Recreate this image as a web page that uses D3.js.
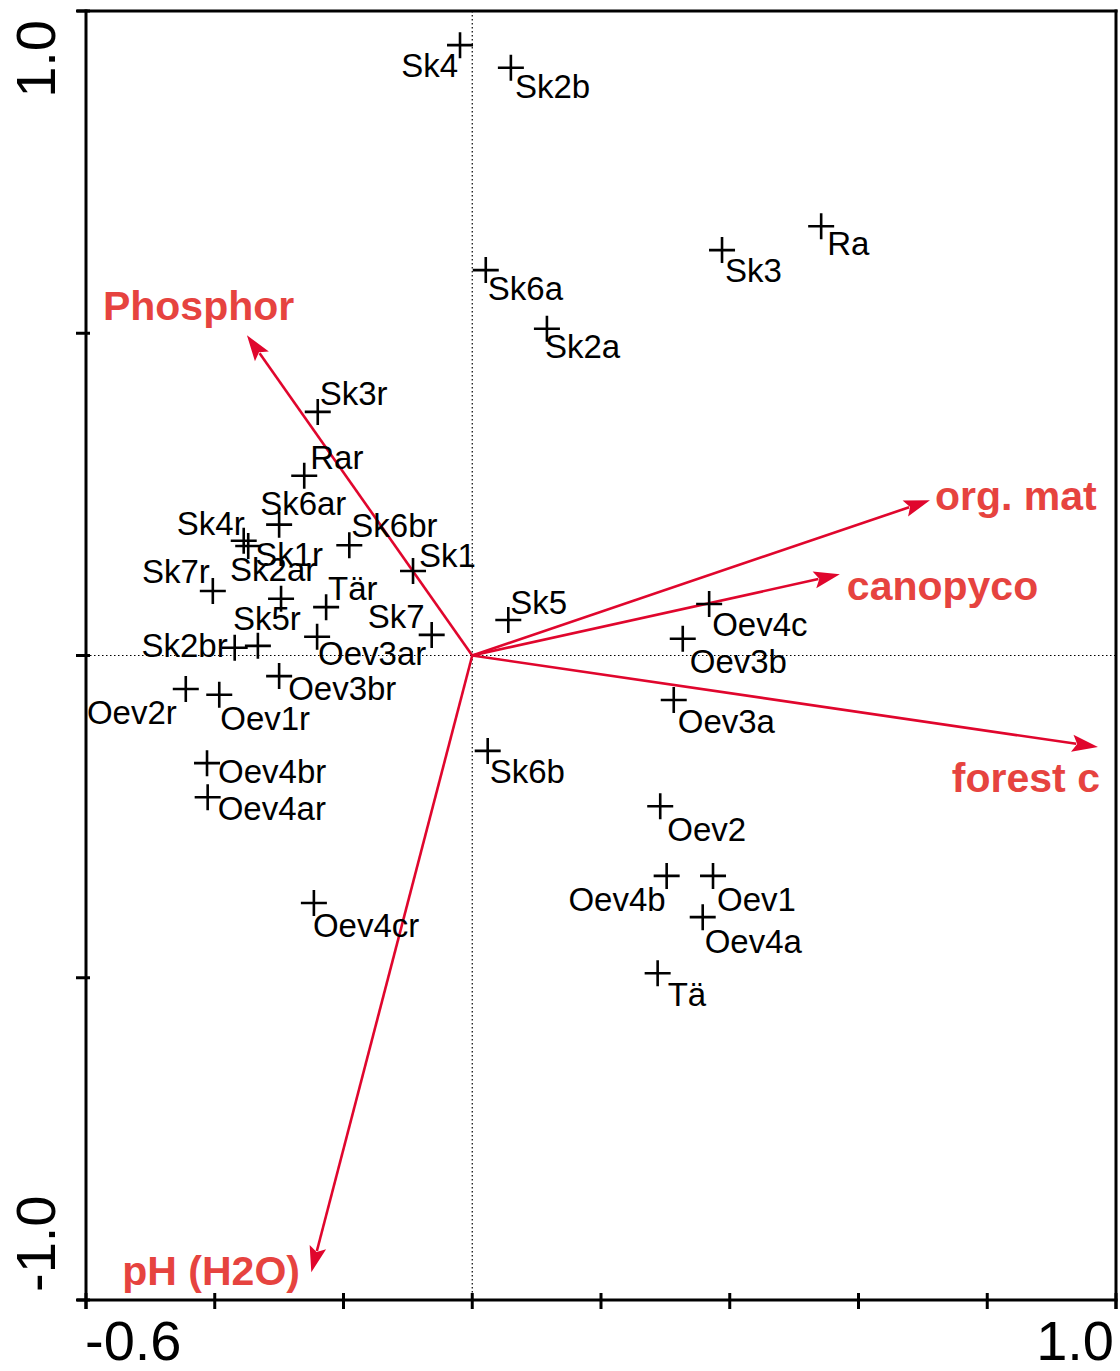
<!DOCTYPE html>
<html><head><meta charset="utf-8">
<script src="https://cdn.jsdelivr.net/npm/d3@7"></script>
<style>html,body{margin:0;padding:0;background:#fff;}svg{display:block;}</style>
</head><body>
<script>
// ---- data ----
const siteNames = ["Sk4","Sk2b","Sk6a","Sk2a","Sk3","Ra","Sk3r","Rar","Sk6ar","Sk4r","Sk1r","Sk6br","Sk1","Sk7r","Sk2ar","Tär","Sk7","Sk5r","Sk2br","Oev3ar","Oev3br","Oev2r","Oev1r","Oev4br","Oev4ar","Oev4cr","Sk6b","Sk5","Oev4c","Oev3b","Oev3a","Oev2","Oev4b","Oev1","Oev4a","Tä"];
const siteX = [-0.019,0.060,0.021,0.116,0.388,0.542,-0.240,-0.261,-0.300,-0.355,-0.348,-0.191,-0.092,-0.403,-0.297,-0.227,-0.063,-0.333,-0.369,-0.241,-0.300,-0.445,-0.393,-0.412,-0.411,-0.246,0.024,0.056,0.368,0.327,0.313,0.292,0.302,0.374,0.358,0.288];
const siteY = [0.947,0.912,0.598,0.507,0.629,0.666,0.378,0.279,0.203,0.178,0.170,0.171,0.131,0.100,0.088,0.075,0.032,0.015,0.012,0.029,-0.032,-0.052,-0.061,-0.167,-0.220,-0.384,-0.148,0.055,0.080,0.026,-0.069,-0.234,-0.342,-0.342,-0.406,-0.493];

const envNames = ["Phosphor","org. mat","canopyco","forest c","pH (H2O)"];
const envX = [-0.350,0.711,0.571,0.972,-0.250];
const envY = [0.497,0.241,0.126,-0.142,-0.957];

const xTicks = [-0.6,-0.4,-0.2,0,0.2,0.4,0.6,0.8,1.0];
const yTicks = [-1.0,-0.5,0,0.5,1.0];
const xTickLabels = ["-0.6","1.0"];
const yTickLabels = ["-1.0","1.0"];

// label placement (pixel offsets from the cross, text-anchor)
const siteLabelPlace = {
  "Sk4":[-2,32,"end"],"Sk2b":[4,30,"start"],"Sk6a":[2,30,"start"],"Sk2a":[-2,29,"start"],
  "Sk3":[3,32,"start"],"Ra":[6,29,"start"],"Sk3r":[2,-7,"start"],"Rar":[6,-7,"start"],
  "Sk6ar":[-19,-10,"start"],"Sk4r":[1,-6,"end"],"Sk1r":[7,20,"start"],"Sk6br":[2,-8,"start"],
  "Sk1":[6,-4,"start"],"Sk7r":[-3,-8,"end"],"Sk2ar":[-51,-18,"start"],"Tär":[2,-7,"start"],
  "Sk7":[-7,-7,"end"],"Sk5r":[-25,-16,"start"],"Sk2br":[-7,9,"end"],"Oev3ar":[1,28,"start"],
  "Oev3br":[9,24,"start"],"Oev2r":[-9,35,"end"],"Oev1r":[1,35,"start"],"Oev4br":[11,20,"start"],
  "Oev4ar":[10,23,"start"],"Oev4cr":[-1,34,"start"],"Sk6b":[2,32,"start"],"Sk5":[2,-6,"start"],
  "Oev4c":[3,32,"start"],"Oev3b":[7,34,"start"],"Oev3a":[4,33,"start"],"Oev2":[7,35,"start"],
  "Oev4b":[-1,35,"end"],"Oev1":[4,35,"start"],"Oev4a":[2,36,"start"],"Tä":[10,33,"start"]
};
const envLabelPlace = {
  "Phosphor":[-144,-15,"start"],"org. mat":[5,10,"start"],"canopyco":[7,26,"start"],
  "forest c":[2,45,"end"],"pH (H2O)":[-189,13,"start"]
};

// ---- chart ----
const W = 1120, H = 1371;
const x = d3.scaleLinear().domain([-0.6,1.0]).range([86,1116]);
const y = d3.scaleLinear().domain([-1.0,1.0]).range([1300,11]);

const svg = d3.select("body").append("svg").attr("width",W).attr("height",H);

// dotted zero lines
svg.append("line").attr("x1",x(-0.6)).attr("x2",x(1.0)).attr("y1",y(0)).attr("y2",y(0))
  .attr("stroke","#000").attr("stroke-width",1.2).attr("stroke-dasharray","1.5,2.5");
svg.append("line").attr("x1",x(0)).attr("x2",x(0)).attr("y1",y(1)).attr("y2",y(-1))
  .attr("stroke","#000").attr("stroke-width",1.2).attr("stroke-dasharray","1.5,2.5");

// frame
const frame = svg.append("g").attr("stroke","#000").attr("stroke-width",3).attr("fill","none");
frame.append("line").attr("x1",77).attr("x2",x(1.0)+1.5).attr("y1",y(1)).attr("y2",y(1));
frame.append("line").attr("x1",77).attr("x2",x(1.0)+1.5).attr("y1",y(-1)).attr("y2",y(-1));
frame.append("line").attr("x1",x(-0.6)).attr("x2",x(-0.6)).attr("y1",y(1)-1.5).attr("y2",y(-1)+9);
frame.append("line").attr("x1",x(1.0)).attr("x2",x(1.0)).attr("y1",y(1)-1.5).attr("y2",y(-1)+9);

// ticks
svg.append("g").selectAll("line").data(xTicks).join("line")
  .attr("x1",d=>x(d)).attr("x2",d=>x(d)).attr("y1",y(-1)-7).attr("y2",y(-1)+9)
  .attr("stroke","#000").attr("stroke-width",3);
svg.append("g").selectAll("line").data(yTicks).join("line")
  .attr("x1",x(-0.6)-10).attr("x2",x(-0.6)+4).attr("y1",d=>y(d)).attr("y2",d=>y(d))
  .attr("stroke","#000").attr("stroke-width",3);

// tick labels
const tickFont = "'Liberation Sans', Arial, sans-serif";
svg.append("text").text(xTickLabels[0]).attr("x",x(-0.6)-1).attr("y",1360)
  .attr("font-family",tickFont).attr("font-size",56).attr("text-anchor","start");
svg.append("text").text(xTickLabels[1]).attr("x",x(1.0)-2).attr("y",1360)
  .attr("font-family",tickFont).attr("font-size",56).attr("text-anchor","end");
svg.append("text").text(yTickLabels[1]).attr("transform",`translate(55,${y(1)+9}) rotate(-90)`)
  .attr("font-family",tickFont).attr("font-size",56).attr("text-anchor","end");
svg.append("text").text(yTickLabels[0]).attr("transform",`translate(55,${y(-1)-8}) rotate(-90)`)
  .attr("font-family",tickFont).attr("font-size",56).attr("text-anchor","start");

// arrows
const arrowCol = "#e0062d", envTextCol = "#e6433f";
const envData = envNames.map((n,i)=>({name:n,x:envX[i],y:envY[i]}));
const ag = svg.append("g");
envData.forEach(d=>{
  const x0=x(0), y0=y(0), x1=x(d.x), y1=y(d.y);
  const ang=Math.atan2(y1-y0,x1-x0), L=26, Wd=8.5;
  const bx=x1-L*Math.cos(ang), by=y1-L*Math.sin(ang);
  ag.append("line").attr("x1",x0).attr("y1",y0).attr("x2",bx+4*Math.cos(ang)).attr("y2",by+4*Math.sin(ang))
    .attr("stroke",arrowCol).attr("stroke-width",2.6);
  const px=-Math.sin(ang), py=Math.cos(ang);
  ag.append("path").attr("d",`M${x1},${y1}L${bx+Wd*px},${by+Wd*py}L${bx+5*Math.cos(ang)},${by+5*Math.sin(ang)}L${bx-Wd*px},${by-Wd*py}Z`)
    .attr("fill",arrowCol);
  const p=envLabelPlace[d.name];
  ag.append("text").text(d.name).attr("x",x1+p[0]).attr("y",y1+p[1]).attr("text-anchor",p[2])
    .attr("font-family",tickFont).attr("font-weight","bold").attr("font-size",41).attr("fill",envTextCol);
});

// sites
const siteData = siteNames.map((n,i)=>({name:n,x:siteX[i],y:siteY[i]}));
const sg = svg.append("g");
siteData.forEach(d=>{
  const cx=x(d.x), cy=y(d.y), a=13;
  sg.append("path").attr("d",`M${cx-a},${cy}H${cx+a}M${cx},${cy-a}V${cy+a}`)
    .attr("stroke","#000").attr("stroke-width",2.6).attr("fill","none");
  const p=siteLabelPlace[d.name]||[3,30,"start"];
  sg.append("text").text(d.name).attr("x",cx+p[0]).attr("y",cy+p[1]).attr("text-anchor",p[2])
    .attr("font-family",tickFont).attr("font-size",33).attr("fill","#000");
});
</script>
</body></html>
